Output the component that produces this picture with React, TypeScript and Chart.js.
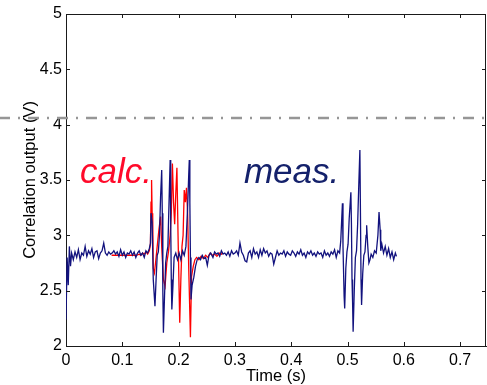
import React, { useEffect, useRef } from 'react';
import { Chart, registerables } from 'chart.js';

Chart.register(...registerables);

// ---- data ----
const xTicks = [0, 0.1, 0.2, 0.3, 0.4, 0.5, 0.6, 0.7];
const yTicks = [2, 2.5, 3, 3.5, 4, 4.5, 5];
const xRange = [0, 0.746];
const yRange = [2, 5];
const thresholdVolt = 4.06;

// measured correlation output [time s, volts]
const measured: [number, number][] = [
  [0.000, 2.24], [0.002, 2.80], [0.004, 2.55], [0.006, 2.90], [0.008, 2.72], [0.010, 2.84],
  [0.013, 2.78], [0.016, 2.85], [0.019, 2.80], [0.022, 2.87], [0.025, 2.78], [0.028, 2.84],
  [0.031, 2.82], [0.034, 2.90], [0.037, 2.81], [0.040, 2.86], [0.043, 2.83], [0.046, 2.88],
  [0.049, 2.80], [0.052, 2.85], [0.055, 2.86], [0.058, 2.79], [0.061, 2.84], [0.064, 2.86],
  [0.067, 2.93], [0.070, 2.84], [0.073, 2.82], [0.076, 2.85], [0.079, 2.83], [0.082, 2.84],
  [0.085, 2.86], [0.088, 2.83], [0.091, 2.85], [0.094, 2.81], [0.097, 2.87], [0.100, 2.82],
  [0.103, 2.85], [0.106, 2.80], [0.109, 2.84], [0.112, 2.83], [0.115, 2.86], [0.118, 2.82],
  [0.121, 2.85], [0.124, 2.80], [0.127, 2.84], [0.130, 2.86], [0.133, 2.82], [0.136, 2.84],
  [0.139, 2.80], [0.142, 2.86], [0.145, 2.84], [0.148, 2.88], [0.150, 2.93], [0.151, 3.20],
  [0.153, 3.12], [0.155, 2.60], [0.158, 2.36], [0.160, 2.60], [0.162, 2.82], [0.164, 2.85],
  [0.166, 3.00], [0.168, 3.35], [0.170, 3.59], [0.171, 3.20], [0.172, 2.50], [0.173, 2.12],
  [0.175, 2.45], [0.177, 2.75], [0.179, 2.84], [0.181, 2.90], [0.183, 3.30], [0.185, 3.68],
  [0.186, 3.10], [0.187, 2.60], [0.188, 2.33], [0.190, 2.55], [0.192, 2.80], [0.195, 2.84],
  [0.198, 2.78], [0.201, 2.84], [0.204, 2.78], [0.207, 2.86], [0.210, 2.82], [0.213, 2.90],
  [0.216, 3.25], [0.218, 3.55], [0.219, 3.68], [0.220, 3.30], [0.221, 2.80], [0.222, 2.42],
  [0.224, 2.55], [0.227, 2.62], [0.230, 2.72], [0.233, 2.78], [0.236, 2.80], [0.239, 2.78],
  [0.242, 2.82], [0.245, 2.79], [0.248, 2.80], [0.251, 2.73], [0.254, 2.82], [0.257, 2.84],
  [0.261, 2.80], [0.264, 2.85], [0.267, 2.83], [0.270, 2.84], [0.273, 2.81], [0.276, 2.86],
  [0.279, 2.83], [0.282, 2.84], [0.285, 2.82], [0.288, 2.85], [0.291, 2.81], [0.294, 2.86],
  [0.297, 2.83], [0.300, 2.84], [0.303, 2.86], [0.306, 2.82], [0.309, 2.93], [0.312, 2.85],
  [0.315, 2.82], [0.318, 2.77], [0.321, 2.76], [0.324, 2.84], [0.327, 2.86], [0.330, 2.80],
  [0.333, 2.88], [0.336, 2.83], [0.339, 2.85], [0.342, 2.80], [0.345, 2.87], [0.348, 2.82],
  [0.351, 2.88], [0.354, 2.84], [0.357, 2.86], [0.360, 2.81], [0.363, 2.84], [0.366, 2.83],
  [0.369, 2.74], [0.372, 2.80], [0.375, 2.86], [0.378, 2.82], [0.381, 2.84], [0.384, 2.83],
  [0.387, 2.86], [0.390, 2.81], [0.393, 2.85], [0.396, 2.83], [0.399, 2.82], [0.402, 2.86],
  [0.405, 2.84], [0.408, 2.81], [0.411, 2.85], [0.414, 2.83], [0.417, 2.87], [0.420, 2.82],
  [0.423, 2.84], [0.426, 2.80], [0.429, 2.85], [0.432, 2.83], [0.435, 2.86], [0.438, 2.82],
  [0.441, 2.84], [0.444, 2.81], [0.447, 2.85], [0.450, 2.83], [0.453, 2.84], [0.456, 2.80],
  [0.459, 2.86], [0.462, 2.82], [0.465, 2.84], [0.468, 2.81], [0.471, 2.85], [0.474, 2.83],
  [0.477, 2.87], [0.480, 2.80], [0.483, 2.86], [0.486, 2.84], [0.488, 2.95], [0.491, 3.29],
  [0.492, 2.90], [0.494, 2.45], [0.495, 2.34], [0.497, 2.70], [0.499, 2.85], [0.501, 2.92],
  [0.503, 3.15], [0.506, 3.39], [0.507, 3.10], [0.508, 2.60], [0.509, 2.40], [0.510, 2.13],
  [0.512, 2.50], [0.514, 2.80], [0.516, 2.86], [0.518, 3.10], [0.520, 3.45], [0.522, 3.77],
  [0.523, 3.20], [0.524, 2.60], [0.525, 2.37], [0.527, 2.65], [0.529, 2.82], [0.531, 2.85],
  [0.533, 3.00], [0.534, 3.09], [0.536, 2.90], [0.538, 2.75], [0.540, 2.78], [0.542, 2.83],
  [0.545, 2.80], [0.548, 2.86], [0.551, 2.84], [0.554, 3.00], [0.556, 3.21], [0.558, 3.05],
  [0.559, 2.86], [0.561, 2.92], [0.564, 2.84], [0.567, 2.90], [0.570, 2.82], [0.573, 2.88],
  [0.576, 2.80], [0.579, 2.85], [0.582, 2.78], [0.585, 2.84], [0.587, 2.81],
];

// calculated correlation output [time s, volts]
const calculated: [number, number][] = [
  [0.081, 2.82], [0.095, 2.82], [0.110, 2.82], [0.125, 2.82], [0.130, 2.83], [0.133, 2.82],
  [0.136, 2.84], [0.139, 2.83], [0.142, 2.85], [0.145, 2.83], [0.148, 2.86], [0.150, 2.92],
  [0.151, 3.30], [0.152, 3.50], [0.153, 3.20], [0.154, 3.17], [0.155, 2.70], [0.157, 2.66],
  [0.159, 2.75], [0.162, 2.90], [0.165, 3.05], [0.168, 3.17], [0.170, 2.90], [0.173, 2.60],
  [0.176, 2.54], [0.179, 2.75], [0.182, 2.85], [0.185, 3.00], [0.187, 3.20], [0.189, 3.65],
  [0.191, 3.30], [0.193, 3.10], [0.195, 3.38], [0.197, 3.61], [0.199, 3.00], [0.202, 2.21],
  [0.204, 2.60], [0.206, 2.90], [0.208, 3.00], [0.210, 3.41], [0.212, 3.30], [0.214, 3.43],
  [0.216, 3.20], [0.218, 2.70], [0.221, 2.08], [0.223, 2.63], [0.226, 2.72], [0.229, 2.78],
  [0.232, 2.80], [0.236, 2.78], [0.240, 2.81], [0.244, 2.79], [0.248, 2.82], [0.252, 2.80],
  [0.256, 2.84], [0.260, 2.82], [0.264, 2.83], [0.268, 2.81], [0.272, 2.84], [0.276, 2.83],
  [0.279, 2.84],
];

const annotations = [
  { text: 'calc.', t: 0.025, v: 3.476, color: '#ff0a2a' },
  { text: 'meas.', t: 0.316, v: 3.476, color: '#14216b' },
];

const FONT = '"Liberation Sans", Arial, sans-serif';

const decorPlugin = {
  id: 'decor',
  afterDatasetsDraw(chart: any) {
    const { ctx, chartArea, scales } = chart;
    const { left, right, top, bottom } = chartArea;
    const xs = scales.x;
    const ys = scales.y;
    ctx.save();
    // threshold dash-dot line across the whole figure
    const ty = ys.getPixelForValue(thresholdVolt);
    ctx.strokeStyle = '#969696';
    ctx.lineWidth = 2.5;
    ctx.setLineDash([11, 8, 2, 8]);
    ctx.lineDashOffset = 1;
    ctx.beginPath();
    ctx.moveTo(0, ty);
    ctx.lineTo(chart.width, ty);
    ctx.stroke();
    ctx.setLineDash([]);
    // frame top & right
    ctx.strokeStyle = '#1a1a1a';
    ctx.lineWidth = 1;
    ctx.beginPath();
    ctx.moveTo(left, top + 0.5);
    ctx.lineTo(right, top + 0.5);
    ctx.moveTo(right - 0.5, top);
    ctx.lineTo(right - 0.5, bottom);
    ctx.stroke();
    // inward ticks
    const tl = 4;
    ctx.beginPath();
    xTicks.forEach((v) => {
      const px = Math.round(xs.getPixelForValue(v)) + 0.5;
      ctx.moveTo(px, bottom);
      ctx.lineTo(px, bottom - tl);
      ctx.moveTo(px, top);
      ctx.lineTo(px, top + tl);
    });
    yTicks.forEach((v) => {
      const py = Math.round(ys.getPixelForValue(v)) + 0.5;
      ctx.moveTo(left, py);
      ctx.lineTo(left + tl, py);
      ctx.moveTo(right, py);
      ctx.lineTo(right - tl, py);
    });
    ctx.stroke();
    // text annotations
    ctx.font = `italic 35px ${FONT}`;
    ctx.textBaseline = 'alphabetic';
    ctx.textAlign = 'left';
    annotations.forEach((a) => {
      ctx.fillStyle = a.color;
      ctx.fillText(a.text, xs.getPixelForValue(a.t), ys.getPixelForValue(a.v));
    });
    ctx.restore();
  },
};

export default function App() {
  const ref = useRef<HTMLCanvasElement>(null);
  useEffect(() => {
    if (!ref.current) return;
    const chart = new Chart(ref.current, {
      type: 'scatter',
      data: {
        datasets: [
          {
            label: 'meas.',
            data: measured.map(([x, y]) => ({ x, y })),
            showLine: true,
            borderColor: '#12127e',
            borderWidth: 1.3,
            pointRadius: 0,
            tension: 0,
          },
          {
            label: 'calc.',
            data: calculated.map(([x, y]) => ({ x, y })),
            showLine: true,
            borderColor: '#ff0000',
            borderWidth: 1.3,
            pointRadius: 0,
            tension: 0,
          },
        ],
      },
      options: {
        responsive: false,
        animation: false,
        events: [],
        layout: { padding: { top: 14, right: 1, left: 0, bottom: 0 } },
        plugins: { legend: { display: false }, tooltip: { enabled: false } },
        scales: {
          x: {
            type: 'linear',
            position: 'bottom',
            min: xRange[0],
            max: xRange[1],
            grid: { display: false, drawTicks: false },
            border: { display: true, color: '#1a1a1a', width: 1 },
            afterBuildTicks: (s: any) => {
              s.ticks = xTicks.map((value) => ({ value }));
            },
            afterFit: (s: any) => {
              s.height = 39;
            },
            ticks: {
              color: '#000',
              padding: 5,
              maxRotation: 0,
              autoSkip: false,
              font: { family: FONT, size: 16 },
              callback: (v: any) => String(v),
            },
            title: {
              display: true,
              text: 'Time (s)',
              color: '#000',
              padding: 0,
              font: { family: FONT, size: 16.5, lineHeight: 1 },
            },
          },
          y: {
            type: 'linear',
            min: yRange[0],
            max: yRange[1],
            grid: { display: false, drawTicks: false },
            border: { display: true, color: '#1a1a1a', width: 1 },
            afterBuildTicks: (s: any) => {
              s.ticks = yTicks.map((value) => ({ value }));
            },
            afterFit: (s: any) => {
              s.width = 66;
            },
            ticks: {
              color: '#000',
              padding: 4,
              autoSkip: false,
              font: { family: FONT, size: 16 },
              callback: (v: any) => String(v),
            },
            title: {
              display: true,
              text: 'Correlation output (V)',
              color: '#000',
              padding: { top: 22, bottom: 0 },
              font: { family: FONT, size: 16.5, lineHeight: 1 },
            },
          },
        },
      },
      plugins: [decorPlugin],
    });
    return () => chart.destroy();
  }, []);
  return (
    <div style={{ position: 'fixed', left: 0, top: 0, width: 487, height: 385, background: '#fff' }}>
      <canvas ref={ref} width={487} height={385} style={{ display: 'block' }} />
    </div>
  );
}
